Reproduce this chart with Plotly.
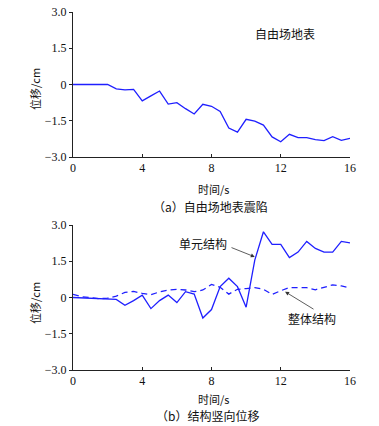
import plotly.graph_objects as go

# ---- data ----
t = [0, 0.5, 1, 1.5, 2, 2.5, 3, 3.5, 4, 4.5, 5, 5.5, 6, 6.5, 7, 7.5, 8, 8.5,
     9, 9.5, 10, 10.5, 11, 11.5, 12, 12.5, 13, 13.5, 14, 14.5, 15, 15.5, 16]
free_field = [0, 0, 0, 0, 0, -0.18, -0.22, -0.2, -0.68, -0.47, -0.27, -0.81, -0.75,
              -1.0, -1.22, -0.82, -0.9, -1.12, -1.8, -1.97, -1.44, -1.52, -1.68,
              -2.17, -2.37, -2.06, -2.2, -2.2, -2.28, -2.32, -2.16, -2.31, -2.23]
unit_struct = [0, -0.01, -0.02, -0.06, -0.06, -0.08, -0.32, -0.13, 0.1, -0.46, -0.13,
               0.1, -0.21, 0.24, 0.14, -0.85, -0.5, 0.45, 0.8, 0.45, -0.4, 1.55,
               2.72, 2.2, 2.2, 1.65, 1.88, 2.32, 2.03, 1.88, 1.88, 2.32, 2.26]
whole_struct = [0.13, 0.03, 0.0, -0.05, -0.03, 0.06, 0.21, 0.25, 0.17, 0.12, 0.23,
                0.31, 0.34, 0.31, 0.24, 0.31, 0.54, 0.42, 0.14, 0.34, 0.37, 0.41,
                0.34, 0.13, 0.28, 0.41, 0.41, 0.41, 0.32, 0.42, 0.52, 0.48, 0.39]
x_ticks = [0, 4, 8, 12, 16]
y_ticks = [-3.0, -1.5, 0, 1.5, 3.0]
y_tick_text = ["\u22123.0", "\u22121.5", "0", "1.5", "3.0"]

W, H = 379, 426
BLUE = "#1f1fff"
NUM_FONT = dict(family="Liberation Serif, Times New Roman, serif", size=12, color="#111")
CJK = "Noto Sans CJK SC"

fig = go.Figure()
fig.add_trace(go.Scatter(x=t, y=free_field, mode="lines", line=dict(color=BLUE, width=1.3),
                         xaxis="x", yaxis="y", showlegend=False))
fig.add_trace(go.Scatter(x=t, y=unit_struct, mode="lines", line=dict(color=BLUE, width=1.3),
                         xaxis="x2", yaxis="y2", showlegend=False))
fig.add_trace(go.Scatter(x=t, y=whole_struct, mode="lines",
                         line=dict(color=BLUE, width=1.3, dash="6px,4px"),
                         xaxis="x2", yaxis="y2", showlegend=False))

xd = [73 / W, 350 / W]
top_d = [1 - 157 / H, 1 - 12 / H]
bot_d = [1 - 370 / H, 1 - 225 / H]

def xax(anchor):
    return dict(domain=xd, range=[0, 16], tickvals=x_ticks, showgrid=False, zeroline=False,
                showline=True, linecolor="#222", linewidth=1, ticks="inside", ticklen=3,
                tickcolor="#222", tickfont=NUM_FONT, anchor=anchor, fixedrange=True,
                automargin=False)

def yax(dom, anchor):
    return dict(domain=dom, range=[-3, 3], tickvals=y_ticks, ticktext=y_tick_text,
                showgrid=False, zeroline=False, showline=True, linecolor="#222", linewidth=1,
                ticks="outside", ticklen=3, tickcolor="#222", tickfont=NUM_FONT,
                anchor=anchor, fixedrange=True, automargin=False)

fig.update_layout(
    width=W, height=H, margin=dict(l=0, r=0, t=0, b=0, pad=0, autoexpand=False),
    paper_bgcolor="white", plot_bgcolor="white",
    xaxis=xax("y"), yaxis=yax(top_d, "x"),
    xaxis2=xax("y2"), yaxis2=yax(bot_d, "x2"),
)

def txt(x, y, s, size=12, angle=0):
    fig.add_annotation(x=x / W, y=1 - y / H, xref="paper", yref="paper", text=s,
                       showarrow=False, textangle=angle,
                       font=dict(family=CJK, size=size, color="#111"),
                       xanchor="center", yanchor="middle")

# axis titles and captions
txt(213, 189, "时间/s", 11)
txt(210, 206, "（a）自由场地表震陷", 12)
txt(213, 399, "时间/s", 11)
txt(207, 415, "（b）结构竖向位移", 12)
txt(35, 89, "位移/cm", 11, -90)
txt(35, 303, "位移/cm", 11, -90)

# in-plot labels
txt(285, 33, "自由场地表", 12)
txt(203, 243, "单元结构", 12)
txt(312, 318, "整体结构", 12)

# arrows (tail -> tip in data coords)
for tail, tip in [((9.07, 2.09), (10.5, 1.68)), ((13.98, -0.52), (12.25, 0.24))]:
    fig.add_annotation(x=tip[0], y=tip[1], ax=tail[0], ay=tail[1], xref="x2", yref="y2",
                       axref="x2", ayref="y2", text="", showarrow=True, arrowhead=2,
                       arrowsize=1, arrowwidth=0.8, arrowcolor="#333")

fig.write_html(
    "out.html",
    config={"displayModeBar": False},
    post_script="document.body.style.margin='0';document.body.style.overflow='hidden';",
)
